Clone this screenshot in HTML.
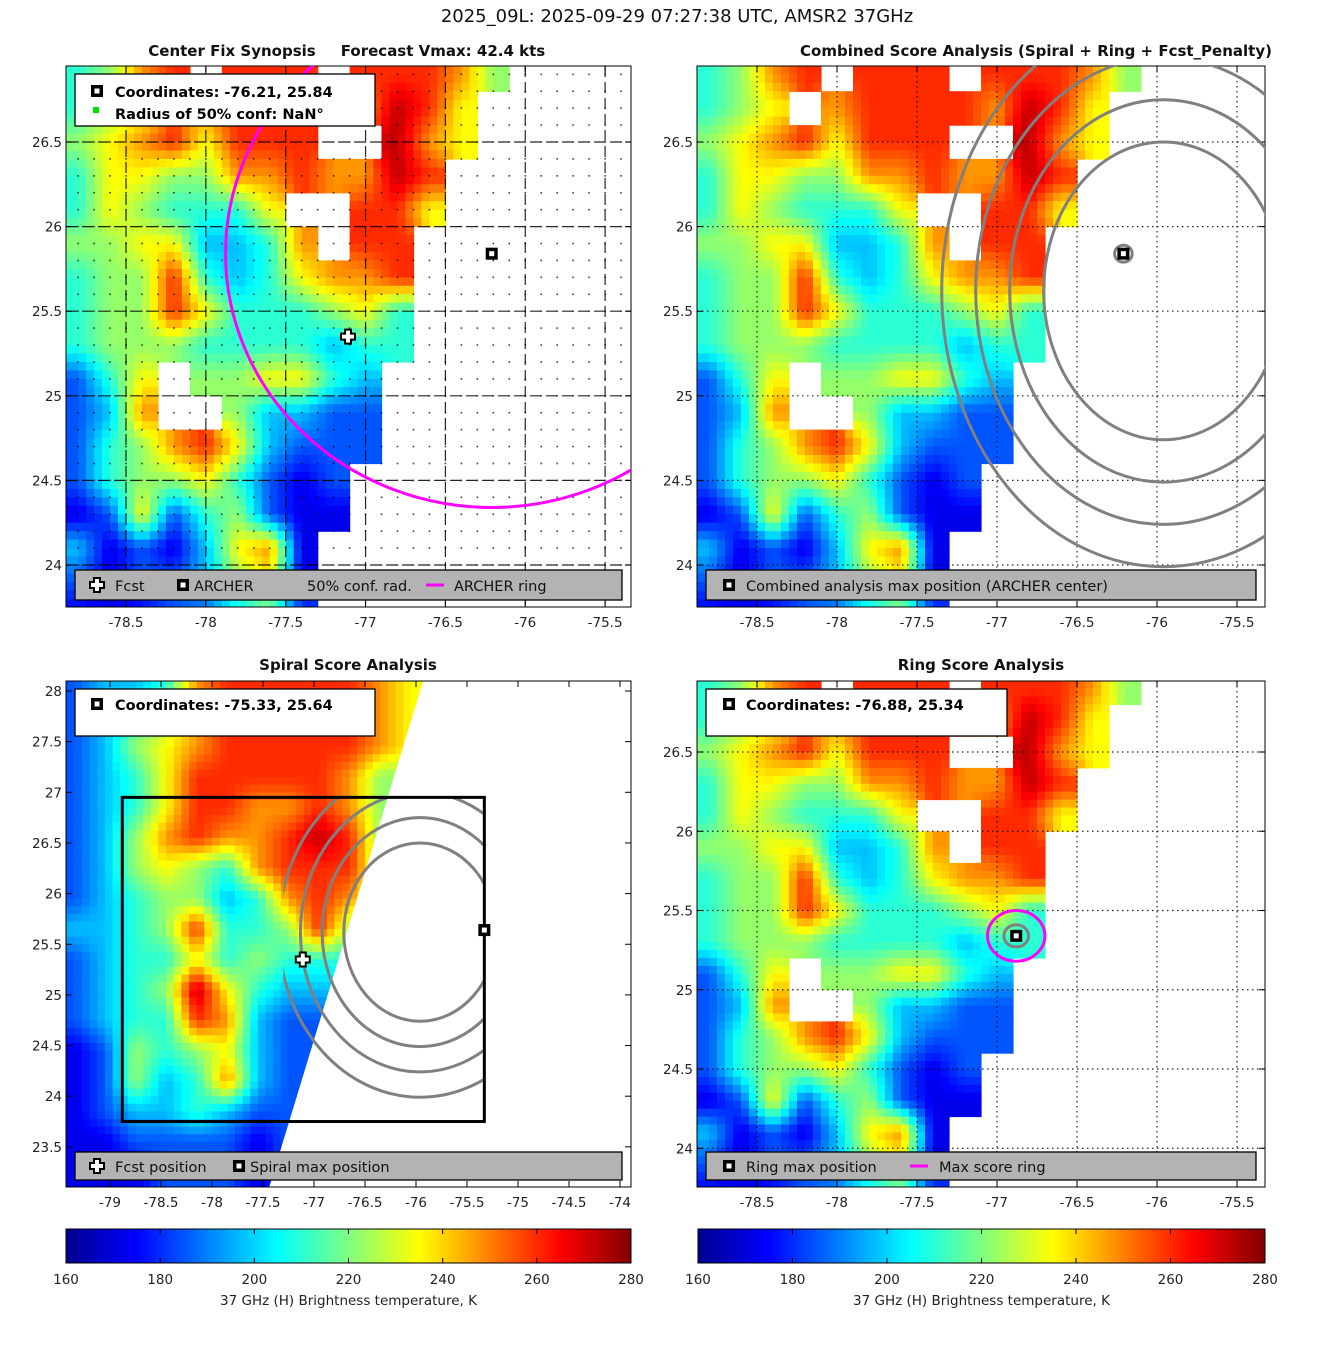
<!DOCTYPE html>
<html><head><meta charset="utf-8"><title>2025_09L AMSR2 37GHz</title>
<style>
html,body{margin:0;padding:0;background:#fff;}
svg{display:block;font-family:"DejaVu Sans","Liberation Sans",sans-serif;}
.tk{font-size:13.5px;fill:#222;}
.pt{font-size:15px;font-weight:bold;fill:#111;}
.lg{font-size:14.5px;font-weight:bold;fill:#000;}
.lb{font-size:14.5px;fill:#111;}
</style></head>
<body>
<svg id="fig" width="1317" height="1350" viewBox="0 0 1317 1350" xmlns="http://www.w3.org/2000/svg">
<defs>
<linearGradient id="jet" x1="0" x2="1" y1="0" y2="0">
<stop offset="0" stop-color="#00008f"/><stop offset="0.125" stop-color="#0000ff"/><stop offset="0.375" stop-color="#00ffff"/><stop offset="0.625" stop-color="#ffff00"/><stop offset="0.875" stop-color="#ff0000"/><stop offset="1" stop-color="#800000"/>
</linearGradient>
</defs>
<text x="677" y="22" text-anchor="middle" font-size="18" fill="#111">2025_09L: 2025-09-29 07:27:38 UTC, AMSR2 37GHz</text>
<text class="pt" x="232" y="56" text-anchor="middle">Center Fix Synopsis</text>
<text class="pt" x="443" y="56" text-anchor="middle">Forecast Vmax: 42.4 kts</text>
<text class="pt" x="1036" y="56" text-anchor="middle">Combined Score Analysis (Spiral + Ring + Fcst_Penalty)</text>
<text class="pt" x="348" y="670" text-anchor="middle">Spiral Score Analysis</text>
<text class="pt" x="981" y="670" text-anchor="middle">Ring Score Analysis</text>
<g id="layer"></g>
</svg>
<script>
const lonStart = -78.9;
const latStart = 27.0;
const cellDeg = 0.2;
const btRows = [
"4578.888.88875....",
"456.788887986.....",
"56786888..976.....",
"466557787798......",
"4654446..886......",
"55663347.88.......",
"45584346778.......",
"45586444564.......",
"45554444344.......",
"246.556643........",
"237..53322........",
"2457863222........",
"245564212.........",
"126245211.........",
"31213671..........",
"21223561..........",
"11122342.........."
];
const spLonStart = -79.5;
const spLatStart = 28.2;
const spCellDeg = 0.3;
const spiralRows = [
"233478888876",
"234578888876",
"235678888876",
"234688888755",
"234688778755",
"235787789855",
"235654788855",
"234553478755",
"334584458555",
"234464544444",
"234596433333",
"234487322222",
"125456322222",
"125347322222",
"123343222222",
"112222122222",
"111222122222"
];
const swathEdge = [[-75.93, 28.1], [-77.44, 23.1]];
const archerCenter = [-76.21, 25.84];
const fcstPos = [-77.11, 25.35];
const spiralMax = [-75.33, 25.64];
const ringMax = [-76.88, 25.34];
const confRadiusDeg = 1.5;
const ringRadiusDeg = 0.16;
const contourCenter = [-75.96, 25.62];
const contourRadii = [0.88, 1.13, 1.38, 1.63];
const analysisBox = [-78.88, 26.95, -75.33, 23.75];
const xTicksMain = [-78.5, -78, -77.5, -77, -76.5, -76, -75.5];
const yTicksMain = [26.5, 26, 25.5, 25, 24.5, 24];
const xTicksSpiral = [-79, -78.5, -78, -77.5, -77, -76.5, -76, -75.5, -75, -74.5, -74];
const yTicksSpiral = [28, 27.5, 27, 26.5, 26, 25.5, 25, 24.5, 24, 23.5];
const cbTicks = [160, 180, 200, 220, 240, 260, 280];
const tMin = 160, tMax = 280;

const NS = "http://www.w3.org/2000/svg";
const layer = document.getElementById('layer');
function mk(tag, attrs, parent) {
  const e = document.createElementNS(NS, tag);
  for (const k in attrs) e.setAttribute(k, attrs[k]);
  (parent || layer).appendChild(e);
  return e;
}
function jet(t) {
  t = Math.max(0, Math.min(1, t));
  const c = v => Math.round(255 * Math.max(0, Math.min(1, v)));
  return `rgb(${c(1.5 - Math.abs(4*t - 3))},${c(1.5 - Math.abs(4*t - 2))},${c(1.5 - Math.abs(4*t - 1))})`;
}
function digitTemp(ch) { return tMin + (+ch) * 12.5; }

const panels = {
  p1: {x0:126, lon0:-78.5, sx:159.7, y0:142, lat0:26.5, sy:169.2, L:66, T:66, R:631, B:607},
  p2: {x0:757, lon0:-78.5, sx:160, y0:142, lat0:26.5, sy:169.2, L:697, T:66, R:1265, B:607},
  p3: {x0:110, lon0:-79, sx:102, y0:691, lat0:28, sy:101.3, L:66, T:681, R:631, B:1187},
  p4: {x0:757, lon0:-78.5, sx:160, y0:752, lat0:26.5, sy:158.5, L:697, T:681, R:1265, B:1187}
};
function xs(p, lon) { return p.x0 + (lon - p.lon0) * p.sx; }
function ys(p, lat) { return p.y0 + (p.lat0 - lat) * p.sy; }

let clipN = 0;
function clipRect(p, L, T, R, B) {
  const id = 'clip' + (clipN++);
  const defs = document.querySelector('defs');
  const cp = mk('clipPath', {id:id}, defs);
  L = L ?? p.L; T = T ?? p.T; R = R ?? p.R; B = B ?? p.B;
  mk('rect', {x:L, y:T, width:R-L, height:B-T}, cp);
  return id;
}

function sampleGrid(rows, fr, fc) {
  const nr = rows.length, nc = rows[0].length;
  const rn = Math.round(fr), cn = Math.round(fc);
  if (rn < 0 || cn < 0 || rn >= nr || cn >= nc) return null;
  if (rows[rn][cn] === '.') return null;
  const r0 = Math.floor(fr), c0 = Math.floor(fc);
  let sw = 0, sv = 0;
  for (let dr = 0; dr <= 1; dr++) for (let dc = 0; dc <= 1; dc++) {
    const r = r0 + dr, c = c0 + dc;
    if (r < 0 || c < 0 || r >= nr || c >= nc) continue;
    const ch = rows[r][c];
    if (ch === '.') continue;
    const w = (dr ? fr - r0 : 1 - (fr - r0)) * (dc ? fc - c0 : 1 - (fc - c0));
    sw += w; sv += w * digitTemp(ch);
  }
  return sw > 0 ? sv / sw : digitTemp(rows[rn][cn]);
}

function drawGrid(p, name, rows, lon0, lat0, d) {
  const g = mk('g', {'clip-path':`url(#${clipRect(p)})`});
  
  
  const sub = 4, fd = d / sub;
  const nr = rows.length * sub, nc = rows[0].length * sub;
  for (let i = 0; i < nr; i++) {
    for (let j = 0; j < nc; j++) {
      const fr = (i + 0.5) / sub - 0.5, fc = (j + 0.5) / sub - 0.5;
      const v = sampleGrid(rows, fr, fc);
      if (v === null) continue;
      const x1 = xs(p, lon0 + j*fd), x2 = xs(p, lon0 + (j+1)*fd);
      const y1 = ys(p, lat0 - i*fd), y2 = ys(p, lat0 - (i+1)*fd);
      const cell = mk('rect', {x:x1.toFixed(1), y:y1.toFixed(1), width:(x2-x1+0.6).toFixed(1), height:(y2-y1+0.6).toFixed(1), fill:jet((v-tMin)/(tMax-tMin))}, g);
      
      
    }
  }
  return g;
}

function drawAxes(p, pre, xt, yt, gridStyle) {
  const g = mk('g', {});
  
  
  xt.forEach(v => {
    const x = xs(p, v);
    if (gridStyle) {
      const gl = mk('line', {x1:x, x2:x, y1:p.T, y2:p.B, stroke:'#000', 'stroke-width':1.2, 'stroke-dasharray':gridStyle, opacity:0.85}, g);
      
      
    }
    mk('line', {x1:x, x2:x, y1:p.B, y2:p.B-6, stroke:'#000'}, g);
    mk('line', {x1:x, x2:x, y1:p.T, y2:p.T+6, stroke:'#000'}, g);
    const t = mk('text', {x:x, y:p.B+20, 'text-anchor':'middle', class:'tk'}, g);
    t.textContent = String(v);
    
    
  });
  yt.forEach(v => {
    const y = ys(p, v);
    if (gridStyle) {
      const gl = mk('line', {x1:p.L, x2:p.R, y1:y, y2:y, stroke:'#000', 'stroke-width':1.2, 'stroke-dasharray':gridStyle, opacity:0.85}, g);
      
      
    }
    mk('line', {x1:p.L, x2:p.L+6, y1:y, y2:y, stroke:'#000'}, g);
    mk('line', {x1:p.R, x2:p.R-6, y1:y, y2:y, stroke:'#000'}, g);
    const t = mk('text', {x:p.L-4, y:y+5, 'text-anchor':'end', class:'tk'}, g);
    t.textContent = String(v);
    
    
  });
  const fr = mk('rect', {x:p.L, y:p.T, width:p.R-p.L, height:p.B-p.T, fill:'none', stroke:'#000', 'stroke-width':1}, g);
  
  
}

function squareMarker(x, y, name, parent) {
  const g = mk('g', {}, parent);
  
  
  mk('rect', {x:x-6, y:y-6, width:12, height:12, fill:'#000'}, g);
  mk('rect', {x:x-2.5, y:y-2.5, width:5, height:5, fill:'#fff'}, g);
}
function crossMarker(x, y, name, parent) {
  const g = mk('g', {}, parent);
  
  
  const d = `M${x-3},${y-7}h6v4h4v6h-4v4h-6v-4h-4v-6h4z`;
  mk('path', {d:d, fill:'#fff', stroke:'#000', 'stroke-width':2}, g);
}
function ellipseDeg(p, c, r, ratio, style, name, parent) {
  const e = mk('ellipse', Object.assign({cx:xs(p, c[0]), cy:ys(p, c[1]), rx:r*ratio*p.sx, ry:r*p.sy, fill:'none'}, style), parent);
  
  
  return e;
}
function legendBox(x, y, w, h, fill, name) {
  const r = mk('rect', {x:x, y:y, width:w, height:h, fill:fill, stroke:'#000', 'stroke-width':1.3});
  
  
}
function label(x, y, txt, cls, name) {
  const t = mk('text', {x:x, y:y, class:cls});
  t.textContent = txt;
  
  
}

/* ---------- Panel 1 ---------- */
const P1 = panels.p1;
drawGrid(P1, 'panel1-heatmap', btRows, lonStart, latStart, cellDeg);
(function(){
  const defs = document.querySelector('defs');
  const pat = mk('pattern', {id:'dots', patternUnits:'userSpaceOnUse', x:xs(P1,-78.5)-0.8, y:ys(P1,26.5)-0.8, width:P1.sx*0.1, height:P1.sy*0.1}, defs);
  mk('rect', {x:0, y:0, width:1.6, height:1.6, fill:'#000'}, pat);
  const d = mk('rect', {x:P1.L, y:P1.T, width:P1.R-P1.L, height:P1.B-P1.T, fill:'url(#dots)', opacity:0.75});
  
  
})();
drawAxes(P1, 'panel1', xTicksMain, yTicksMain, '11 5');
(function(){
  const g = mk('g', {'clip-path':`url(#${clipRect(P1)})`});
  
  
  ellipseDeg(P1, archerCenter, confRadiusDeg, 1/Math.cos(archerCenter[1]*Math.PI/180), {stroke:'#ff00ff', 'stroke-width':3}, 'archer-ring', g);
  squareMarker(xs(P1, archerCenter[0]), ys(P1, archerCenter[1]), 'archer-center-marker', g);
  crossMarker(xs(P1, fcstPos[0]), ys(P1, fcstPos[1]), 'fcst-marker', g);
})();
legendBox(75, 74, 300, 52, '#fff', 'panel1-info-legend');
squareMarker(97, 91, 'legend-archer-icon');
label(115, 97, 'Coordinates: -76.21, 25.84', 'lg', 'panel1-coordinates');
mk('rect', {x:93, y:107, width:6, height:6, fill:'#00e000'});
label(115, 119, 'Radius of 50% conf: NaN°', 'lg', 'panel1-radius-text');
legendBox(75, 570, 547, 30, '#b3b3b3', 'panel1-bottom-legend');
crossMarker(97, 585, 'legend-fcst-icon');
label(115, 591, 'Fcst', 'lb', 'legend-fcst');
squareMarker(183, 585, 'legend-archer-square');
label(194, 591, 'ARCHER', 'lb', 'legend-archer');
label(307, 591, '50% conf. rad.', 'lb', 'legend-conf-rad');
(function(){ const l = mk('line', {x1:426, x2:444, y1:585, y2:585, stroke:'#ff00ff', 'stroke-width':3});

 })();
label(454, 591, 'ARCHER ring', 'lb', 'legend-archer-ring');

/* ---------- Panel 2 ---------- */
const P2 = panels.p2;
drawGrid(P2, 'panel2-heatmap', btRows, lonStart, latStart, cellDeg);
drawAxes(P2, 'panel2', xTicksMain, yTicksMain, '1.5 3.5');
(function(){
  const g = mk('g', {'clip-path':`url(#${clipRect(P2, xs(P2, -77.5))})`});
  
  
  contourRadii.forEach(r => ellipseDeg(P2, contourCenter, r, 0.85, {stroke:'#808080', 'stroke-width':3}, 'score-contour', g));
  ellipseDeg(P2, archerCenter, 0.05, 1.1, {stroke:'#808080', 'stroke-width':3}, 'peak-contour', g);
  squareMarker(xs(P2, archerCenter[0]), ys(P2, archerCenter[1]), 'combined-max-marker', g);
})();
legendBox(706, 570, 550, 30, '#b3b3b3', 'panel2-bottom-legend');
squareMarker(729, 585, 'legend-combined-icon');
label(746, 591, 'Combined analysis max position (ARCHER center)', 'lb', 'legend-combined-max');

/* ---------- Panel 3 ---------- */
const P3 = panels.p3;
(function(){
  const defs = document.querySelector('defs');
  const cp = mk('clipPath', {id:'swathClip'}, defs);
  const [a, b] = swathEdge;
  const xa = xs(P3, a[0]), ya = ys(P3, a[1]), xb = xs(P3, b[0]), yb = ys(P3, b[1]);
  const xAt = y => xa + (xb - xa) * (y - ya) / (yb - ya);
  mk('polygon', {points:`${P3.L},${P3.T} ${xAt(P3.T)},${P3.T} ${xAt(P3.B)},${P3.B} ${P3.L},${P3.B}`}, cp);
  const outer = mk('g', {'clip-path':'url(#swathClip)'});
  
  
  const g = drawGrid(P3, 'panel3-heatmap', spiralRows, spLonStart, spLatStart, spCellDeg);
  outer.appendChild(g);
})();
drawAxes(P3, 'panel3', xTicksSpiral, yTicksSpiral, null);
(function(){
  const defs = document.querySelector('defs');
  const cp = mk('clipPath', {id:'boxClip'}, defs);
  const bx = xs(P3, analysisBox[0]), by = ys(P3, analysisBox[1]);
  const bw = xs(P3, analysisBox[2]) - bx, bh = ys(P3, analysisBox[3]) - by;
  mk('rect', {x:xs(P3, -77.3), y:by, width:xs(P3, analysisBox[2]) - xs(P3, -77.3), height:bh}, cp);
  const g = mk('g', {'clip-path':'url(#boxClip)'});
  
  
  contourRadii.forEach(r => ellipseDeg(P3, contourCenter, r, 0.85, {stroke:'#808080', 'stroke-width':3}, 'spiral-contour', g));
  const box = mk('rect', {x:bx, y:by, width:bw, height:bh, fill:'none', stroke:'#000', 'stroke-width':3});
  
  
  crossMarker(xs(P3, fcstPos[0]), ys(P3, fcstPos[1]), 'spiral-fcst-marker');
  squareMarker(xs(P3, spiralMax[0]), ys(P3, spiralMax[1]), 'spiral-max-marker');
})();
legendBox(75, 689, 300, 47, '#fff', 'panel3-info-legend');
squareMarker(97, 704, 'legend-spiral-icon');
label(115, 710, 'Coordinates: -75.33, 25.64', 'lg', 'panel3-coordinates');
legendBox(75, 1152, 547, 28, '#b3b3b3', 'panel3-bottom-legend');
crossMarker(97, 1166, 'legend-fcst-position-icon');
label(115, 1172, 'Fcst position', 'lb', 'legend-fcst-position');
squareMarker(239, 1166, 'legend-spiral-max-icon');
label(250, 1172, 'Spiral max position', 'lb', 'legend-spiral-max');

/* ---------- Panel 4 ---------- */
const P4 = panels.p4;
drawGrid(P4, 'panel4-heatmap', btRows, lonStart, latStart, cellDeg);
drawAxes(P4, 'panel4', xTicksMain, yTicksMain, '1.5 3.5');
(function(){
  const g = mk('g', {'clip-path':`url(#${clipRect(P4)})`});
  
  
  ellipseDeg(P4, ringMax, 0.07, 1.1, {stroke:'#808080', 'stroke-width':3}, 'ring-contour', g);
  ellipseDeg(P4, ringMax, ringRadiusDeg, 1.12, {stroke:'#ff00ff', 'stroke-width':3}, 'max-score-ring', g);
  squareMarker(xs(P4, ringMax[0]), ys(P4, ringMax[1]), 'ring-max-marker', g);
})();
legendBox(706, 689, 301, 47, '#fff', 'panel4-info-legend');
squareMarker(729, 704, 'legend-ring-icon');
label(746, 710, 'Coordinates: -76.88, 25.34', 'lg', 'panel4-coordinates');
legendBox(706, 1152, 550, 28, '#b3b3b3', 'panel4-bottom-legend');
squareMarker(729, 1166, 'legend-ring-max-icon');
label(746, 1172, 'Ring max position', 'lb', 'legend-ring-max');
(function(){ const l = mk('line', {x1:910, x2:928, y1:1166, y2:1166, stroke:'#ff00ff', 'stroke-width':3});

 })();
label(939, 1172, 'Max score ring', 'lb', 'legend-max-score-ring');

/* ---------- Colorbars ---------- */
function colorbar(x0, x1, pre) {
  const g = mk('g', {});
  
  
  const r = mk('rect', {x:x0, y:1229, width:x1-x0, height:34, fill:'url(#jet)', stroke:'#000', 'stroke-width':1}, g);
  
  
  cbTicks.forEach(v => {
    const x = x0 + (v - tMin) / (tMax - tMin) * (x1 - x0);
    mk('line', {x1:x, x2:x, y1:1263, y2:1258, stroke:'#000'}, g);
    mk('line', {x1:x, x2:x, y1:1229, y2:1234, stroke:'#000'}, g);
    const t = mk('text', {x:x, y:1284, 'text-anchor':'middle', class:'tk'}, g);
    t.textContent = String(v);
    
    
  });
  const t = mk('text', {x:(x0+x1)/2, y:1305, 'text-anchor':'middle', class:'tk'}, g);
  t.textContent = '37 GHz (H) Brightness temperature, K';
  
  
}
colorbar(66, 631, 'colorbar-left');
colorbar(698, 1265, 'colorbar-right');
</script>
</body></html>
